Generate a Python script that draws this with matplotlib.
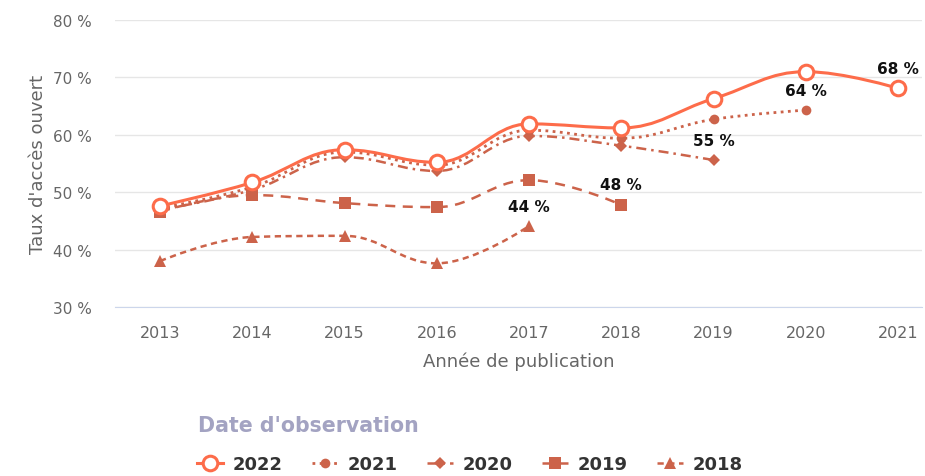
import numpy as np
import matplotlib.pyplot as plt
from matplotlib.path import Path
from matplotlib.patches import PathPatch
from matplotlib.lines import Line2D

plt.rcParams['font.family'] = ['DejaVu Sans']

# Data
years = ["2013", "2014", "2015", "2016", "2017", "2018", "2019", "2020", "2021"]
obs_2022 = [47.6, 51.7, 57.4, 55.2, 61.9, 61.2, 66.3, 71.0, 68.1]
obs_2021 = [47.2, 50.9, 57.0, 54.7, 60.8, 59.4, 62.7, 64.3]
obs_2020 = [46.9, 50.4, 56.1, 53.7, 59.8, 58.1, 55.6]
obs_2019 = [46.6, 49.5, 48.1, 47.4, 52.1, 47.8]
obs_2018 = [38.0, 42.2, 42.4, 37.6, 44.1]
last_labels = ["68 %", "64 %", "55 %", "48 %", "44 %"]
series_names = ["2022", "2021", "2020", "2019", "2018"]

coral = '#fd6c4a'
brick = '#cc634a'


def spline_path(xs, ys):
    # Highcharts-like spline: cubic bezier control points per point
    n = len(xs)
    sm, den = 1.5, 2.5
    left = [None] * n
    right = [None] * n
    for i in range(n):
        x, y = xs[i], ys[i]
        if 0 < i < n - 1:
            px, py = xs[i - 1], ys[i - 1]
            nx, ny = xs[i + 1], ys[i + 1]
            lcx = (sm * x + px) / den
            lcy = (sm * y + py) / den
            rcx = (sm * x + nx) / den
            rcy = (sm * y + ny) / den
            corr = (rcy - lcy) * (rcx - x) / (rcx - lcx) + y - rcy
            lcy += corr
            rcy += corr
            if lcy > max(py, y):
                lcy = max(py, y)
                rcy = 2 * y - lcy
            elif lcy < min(py, y):
                lcy = min(py, y)
                rcy = 2 * y - lcy
            if rcy > max(ny, y):
                rcy = max(ny, y)
                lcy = 2 * y - rcy
            elif rcy < min(ny, y):
                rcy = min(ny, y)
                lcy = 2 * y - rcy
            left[i] = (lcx, lcy)
            right[i] = (rcx, rcy)
        else:
            left[i] = (x, y)
            right[i] = (x, y)
    verts = [(xs[0], ys[0])]
    codes = [Path.MOVETO]
    for i in range(1, n):
        verts += [right[i - 1], left[i], (xs[i], ys[i])]
        codes += [Path.CURVE4] * 3
    return Path(verts, codes)


fig = plt.figure(figsize=(9.25, 4.77), dpi=100)
ax = fig.add_axes([115 / 925, 1 - 308 / 477, (922 - 115) / 925, (308 - 21) / 477])

styles = [
    dict(data=obs_2022, color=coral, dash=None, lw=2.2, marker='o', ms=10.5, mfc='white', mew=2.2),
    dict(data=obs_2021, color=brick, dash=(1, 1.6), lw=2.0, marker='o', ms=7, mfc=brick, mew=0),
    dict(data=obs_2020, color=brick, dash=(4, 2, 1, 2), lw=1.8, marker='D', ms=6, mfc=brick, mew=0),
    dict(data=obs_2019, color=brick, dash=(4, 3), lw=1.8, marker='s', ms=8, mfc=brick, mew=0),
    dict(data=obs_2018, color=brick, dash=(2.5, 1.8), lw=1.8, marker='^', ms=8, mfc=brick, mew=0),
]

handles = []
for k, st in enumerate(styles):
    vals = st['data']
    xs = list(range(len(vals)))
    z = 10 - k
    patch = PathPatch(spline_path(xs, vals), facecolor='none', edgecolor=st['color'],
                      lw=st['lw'], zorder=z)
    if st['dash'] is not None:
        patch.set_linestyle((0, st['dash']))
    ax.add_patch(patch)
    ax.plot(xs, vals, ls='none', marker=st['marker'], ms=st['ms'], mfc=st['mfc'],
            mec=st['color'], mew=st['mew'], zorder=z + 0.5)
    ax.annotate(last_labels[k], (xs[-1], vals[-1]), xytext=(0, 9), textcoords='offset points',
                ha='center', va='bottom', fontsize=11, fontweight='bold', color='#111111', zorder=20)
    h = Line2D([0], [0], color=st['color'], lw=st['lw'],
               ls=(0, st['dash']) if st['dash'] is not None else '-',
               marker=st['marker'], ms=st['ms'], mfc=st['mfc'], mec=st['color'], mew=st['mew'])
    handles.append(h)

ax.set_xlim(-0.488, 8.26)
ax.set_ylim(30, 80)
ax.set_yticks([30, 40, 50, 60, 70, 80])
ax.set_yticklabels([f"{v} %" for v in [30, 40, 50, 60, 70, 80]])
ax.set_xticks(range(len(years)))
ax.set_xticklabels(years)
ax.grid(axis='y', color='#e6e6e6', lw=1)
ax.set_axisbelow(True)
for s in ['top', 'right', 'left']:
    ax.spines[s].set_visible(False)
ax.spines['bottom'].set_color('#ccd6eb')
ax.tick_params(axis='both', length=0, labelcolor='#666666')
ax.tick_params(axis='x', pad=13, labelsize=11.5)
ax.tick_params(axis='y', pad=17, labelsize=11)
ax.set_xlabel("Année de publication", color='#666666', fontsize=13, labelpad=8)
ax.set_ylabel("Taux d'accès ouvert", color='#666666', fontsize=13, labelpad=4)

fig.text(198 / 925, 1 - 426 / 477, "Date d'observation", color='#a3a3c2', fontsize=14.8,
         fontweight='bold', ha='left', va='center')
leg = fig.legend(handles, series_names, loc='center left', bbox_to_anchor=(197 / 925, 1 - 465 / 477),
                 ncol=5, frameon=False, borderpad=0, borderaxespad=0,
                 prop=dict(size=13, weight='bold'), handlelength=1.45, columnspacing=1.6,
                 handletextpad=0.55)
for t in leg.get_texts():
    t.set_color('#333333')

fig.savefig("out.png", dpi=100)
